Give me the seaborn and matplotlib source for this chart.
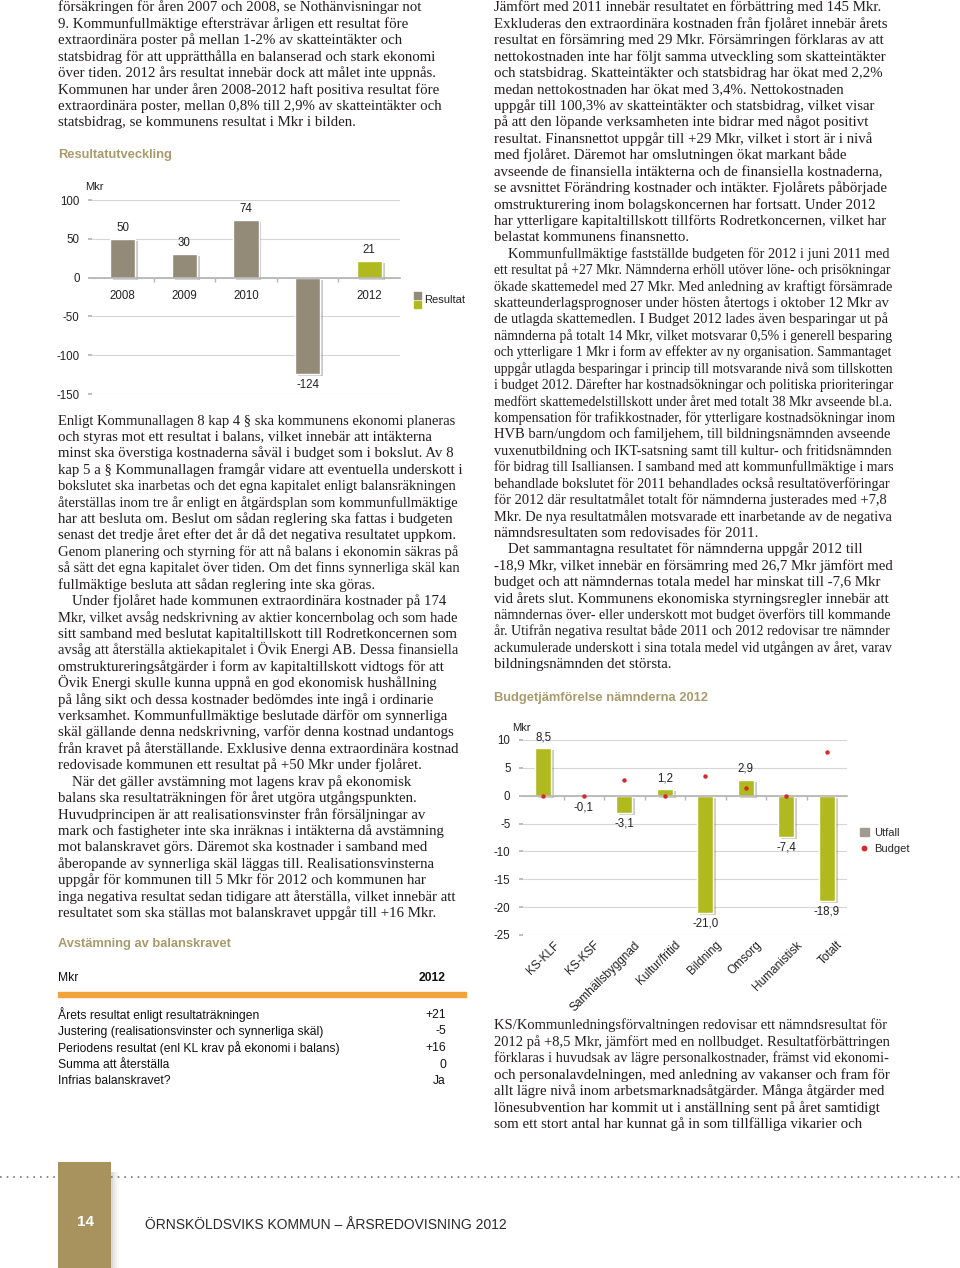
import matplotlib
matplotlib.use("Agg")
import matplotlib.pyplot as plt
import matplotlib.patheffects as pe
import matplotlib.transforms as mtransforms
from matplotlib.lines import Line2D
from matplotlib.patches import Patch, Rectangle
import seaborn as sns

W, H = 960, 1268

# chart 1: Resultatutveckling
YEARS = ["2008", "2009", "2010", "2011", "2012"]
RESULTAT = [50, 30, 74, -124, 21]

# chart 2: Budgetjämförelse nämnderna 2012
NAMND = ["KS-KLF", "KS-KSF", "Samhällsbyggnad", "Kultur/fritid", "Bildning",
         "Omsorg", "Humanistisk", "Totalt"]
UTFALL = [8.5, -0.1, -3.1, 1.2, -21.0, 2.9, -7.4, -18.9]
BUDGET = [0, 0, 2.9, 0, 3.6, 1.3, 0, 7.8]

# table: Avstämning av balanskravet
TABLE_ROWS = [
    "Årets resultat enligt resultaträkningen",
    "Justering (realisationsvinster och synnerliga skäl)",
    "Periodens resultat (enl KL krav på ekonomi i balans)",
    "Summa att återställa",
    "Infrias balanskravet?",
]
TABLE_VALUES = ["+21", "-5", "+16", "0", "Ja"]

LEFT_TOP = [
    "försäkringen för åren 2007 och 2008, se Nothänvisningar not",
    "9. Kommunfullmäktige eftersträvar årligen ett resultat före",
    "extraordinära poster på mellan 1-2% av skatteintäkter och",
    "statsbidrag för att upprätthålla en balanserad och stark ekonomi",
    "över tiden. 2012 års resultat innebär dock att målet inte uppnås.",
    "Kommunen har under åren 2008-2012 haft positiva resultat före",
    "extraordinära poster, mellan 0,8% till 2,9% av skatteintäkter och",
    "statsbidrag, se kommunens resultat i Mkr i bilden.",
]

LEFT_MID = [
    "Enligt Kommunallagen 8 kap 4 § ska kommunens ekonomi planeras",
    "och styras mot ett resultat i balans, vilket innebär att intäkterna",
    "minst ska överstiga kostnaderna såväl i budget som i bokslut. Av 8",
    "kap 5 a § Kommunallagen framgår vidare att eventuella underskott i",
    "bokslutet ska inarbetas och det egna kapitalet enligt balansräkningen",
    "återställas inom tre år enligt en åtgärdsplan som kommunfullmäktige",
    "har att besluta om. Beslut om sådan reglering ska fattas i budgeten",
    "senast det tredje året efter det år då det negativa resultatet uppkom.",
    "Genom planering och styrning för att nå balans i ekonomin säkras på",
    "så sätt det egna kapitalet över tiden. Om det finns synnerliga skäl kan",
    "fullmäktige besluta att sådan reglering inte ska göras.",
    "\tUnder fjolåret hade kommunen extraordinära kostnader på 174",
    "Mkr, vilket avsåg nedskrivning av aktier koncernbolag och som hade",
    "sitt samband med beslutat kapitaltillskott till Rodretkoncernen som",
    "avsåg att återställa aktiekapitalet i Övik Energi AB. Dessa finansiella",
    "omstruktureringsåtgärder i form av kapitaltillskott vidtogs för att",
    "Övik Energi skulle kunna uppnå en god ekonomisk hushållning",
    "på lång sikt och dessa kostnader bedömdes inte ingå i ordinarie",
    "verksamhet. Kommunfullmäktige beslutade därför om synnerliga",
    "skäl gällande denna nedskrivning, varför denna kostnad undantogs",
    "från kravet på återställande. Exklusive denna extraordinära kostnad",
    "redovisade kommunen ett resultat på +50 Mkr under fjolåret.",
    "\tNär det gäller avstämning mot lagens krav på ekonomisk",
    "balans ska resultaträkningen för året utgöra utgångspunkten.",
    "Huvudprincipen är att realisationsvinster från försäljningar av",
    "mark och fastigheter inte ska inräknas i intäkterna då avstämning",
    "mot balanskravet görs. Däremot ska kostnader i samband med",
    "åberopande av synnerliga skäl läggas till. Realisationsvinsterna",
    "uppgår för kommunen till 5 Mkr för 2012 och kommunen har",
    "inga negativa resultat sedan tidigare att återställa, vilket innebär att",
    "resultatet som ska ställas mot balanskravet uppgår till +16 Mkr.",
]

RIGHT_TOP = [
    "Jämfört med 2011 innebär resultatet en förbättring med 145 Mkr.",
    "Exkluderas den extraordinära kostnaden från fjolåret innebär årets",
    "resultat en försämring med 29 Mkr. Försämringen förklaras av att",
    "nettokostnaden inte har följt samma utveckling som skatteintäkter",
    "och statsbidrag. Skatteintäkter och statsbidrag har ökat med 2,2%",
    "medan nettokostnaden har ökat med 3,4%. Nettokostnaden",
    "uppgår till 100,3% av skatteintäkter och statsbidrag, vilket visar",
    "på att den löpande verksamheten inte bidrar med något positivt",
    "resultat. Finansnettot uppgår till +29 Mkr, vilket i stort är i nivå",
    "med fjolåret. Däremot har omslutningen ökat markant både",
    "avseende de finansiella intäkterna och de finansiella kostnaderna,",
    "se avsnittet Förändring kostnader och intäkter. Fjolårets påbörjade",
    "omstrukturering inom bolagskoncernen har fortsatt. Under 2012",
    "har ytterligare kapitaltillskott tillförts Rodretkoncernen, vilket har",
    "belastat kommunens finansnetto.",
    "\tKommunfullmäktige fastställde budgeten för 2012 i juni 2011 med",
    "ett resultat på +27 Mkr. Nämnderna erhöll utöver löne- och prisökningar",
    "ökade skattemedel med 27 Mkr. Med anledning av kraftigt försämrade",
    "skatteunderlagsprognoser under hösten återtogs i oktober 12 Mkr av",
    "de utlagda skattemedlen. I Budget 2012 lades även besparingar ut på",
    "nämnderna på totalt 14 Mkr, vilket motsvarar 0,5% i generell besparing",
    "och ytterligare 1 Mkr i form av effekter av ny organisation. Sammantaget",
    "uppgår utlagda besparingar i princip till motsvarande nivå som tillskotten",
    "i budget 2012. Därefter har kostnadsökningar och politiska prioriteringar",
    "medfört skattemedelstillskott under året med totalt 38 Mkr avseende bl.a.",
    "kompensation för trafikkostnader, för ytterligare kostnadsökningar inom",
    "HVB barn/ungdom och familjehem, till bildningsnämnden avseende",
    "vuxenutbildning och IKT-satsning samt till kultur- och fritidsnämnden",
    "för bidrag till Isalliansen. I samband med att kommunfullmäktige i mars",
    "behandlade bokslutet för 2011 behandlades också resultatöverföringar",
    "för 2012 där resultatmålet totalt för nämnderna justerades med +7,8",
    "Mkr. De nya resultatmålen motsvarade ett inarbetande av de negativa",
    "nämndsresultaten som redovisades för 2011.",
    "\tDet sammantagna resultatet för nämnderna uppgår 2012 till",
    "-18,9 Mkr, vilket innebär en försämring med 26,7 Mkr jämfört med",
    "budget och att nämndernas totala medel har minskat till -7,6 Mkr",
    "vid årets slut. Kommunens ekonomiska styrningsregler innebär att",
    "nämndernas över- eller underskott mot budget överförs till kommande",
    "år. Utifrån negativa resultat både 2011 och 2012 redovisar tre nämnder",
    "ackumulerade underskott i sina totala medel vid utgången av året, varav",
    "bildningsnämnden det största.",
]

RIGHT_BOTTOM = [
    "KS/Kommunledningsförvaltningen redovisar ett nämndsresultat för",
    "2012 på +8,5 Mkr, jämfört med en nollbudget. Resultatförbättringen",
    "förklaras i huvudsak av lägre personalkostnader, främst vid ekonomi-",
    "och personalavdelningen, med anledning av vakanser och fram för",
    "allt lägre nivå inom arbetsmarknadsåtgärder. Många åtgärder med",
    "lönesubvention har kommit ut i anställning sent på året samtidigt",
    "som ett stort antal har kunnat gå in som tillfälliga vikarier och",
]

INK = "#231f20"
TAN = "#a99a6b"
BROWN = "#948a78"
GREEN = "#b0ba1e"
RED = "#d42a2a"
GRID = "#d6d6d6"

SERIF = ["Liberation Serif", "DejaVu Serif"]
SANS = ["Liberation Sans", "DejaVu Sans"]


def fx(x):
    return x / W


def fy(y):
    return 1 - y / H


def text_block(fig, lines, x, y0, maxw, size=10.7, pitch=16.42):
    r = fig.canvas.get_renderer()
    for i, line in enumerate(lines):
        indent = 14 if line.startswith("\t") else 0
        t = fig.text(fx(x + indent), fy(y0 + i * pitch + 4.5), line.strip(),
                     family=SERIF, fontsize=size, color=INK, va="baseline")
        w = t.get_window_extent(r).width
        if w > maxw - indent:
            t.set_fontsize(size * (maxw - indent) / w)


sns.set_theme(style="white")
plt.rcParams["font.family"] = SANS
plt.rcParams["axes.unicode_minus"] = False

fig = plt.figure(figsize=(W / 100, H / 100), dpi=100)

# body text
text_block(fig, LEFT_TOP, 58, 7, 402)
text_block(fig, LEFT_MID, 58, 420, 402)
text_block(fig, RIGHT_TOP, 494, 7, 397)
text_block(fig, RIGHT_BOTTOM, 494, 1025, 397)

# headings
for x, y, s in [(58, 155, "Resultatutveckling"),
                (494, 698, "Budgetjämförelse nämnderna 2012"),
                (58, 944, "Avstämning av balanskravet")]:
    fig.text(fx(x), fy(y), s, family=SANS, fontsize=9.3, weight="bold",
             color=TAN, va="center")

# ---- chart 1
ax1 = fig.add_axes([fx(92), fy(394), 308 / W, 194 / H])
bar_colors = [GREEN if y == "2012" else BROWN for y in YEARS]
sns.barplot(x=YEARS, y=RESULTAT, hue=YEARS, palette=bar_colors, width=0.41,
            saturation=1, legend=False, ax=ax1)
for p in ax1.patches:
    p.set_path_effects([pe.SimplePatchShadow(offset=(2, -1.5), alpha=0.25), pe.Normal()])
ax1.set_ylim(-150, 100)
ax1.set_xlim(-0.5, len(YEARS) - 0.5)
ax1.set_yticks(range(-150, 101, 50))
ax1.yaxis.grid(True, color=GRID, lw=0.8)
ax1.set_axisbelow(True)
for s in ["left", "right", "top"]:
    ax1.spines[s].set_visible(False)
ax1.spines["bottom"].set_position(("data", 0))
ax1.spines["bottom"].set_color("#b5b5b5")
ax1.set_xticks([i + 0.5 for i in range(len(YEARS) - 1)], minor=True)
ax1.tick_params(axis="x", which="major", length=0, pad=9, labelsize=8.3, labelcolor="#222")
ax1.tick_params(axis="x", which="minor", length=3, color="#b5b5b5", bottom=True)
ax1.tick_params(axis="y", left=True, length=3, color="#b5b5b5", pad=6, labelsize=8.3,
                labelcolor="#222")
ax1.set_xlabel("")
ax1.set_ylabel("")
for i, v in enumerate(RESULTAT):
    ax1.annotate(str(v), (i, v), xytext=(0, 3.5 if v > 0 else -3.5),
                 textcoords="offset points", ha="center",
                 va="bottom" if v > 0 else "top", fontsize=8.3, color="#222")
fig.text(fx(85), fy(187), "Mkr", fontsize=8, color="#222", va="center")
fig.add_artist(Rectangle((fx(414), fy(299)), 7 / W, 7 / H, color=BROWN))
fig.add_artist(Rectangle((fx(414), fy(308)), 7 / W, 7 / H, color=GREEN))
fig.text(fx(424), fy(300), "Resultat", fontsize=8, color="#222", va="center")

# ---- chart 2
ax2 = fig.add_axes([fx(523), fy(935), 324 / W, 195 / H])
sns.barplot(x=NAMND, y=UTFALL, color=GREEN, width=0.4, saturation=1, ax=ax2)
for p in ax2.patches:
    p.set_path_effects([pe.SimplePatchShadow(offset=(2, -1.5), alpha=0.25), pe.Normal()])
sns.stripplot(x=NAMND, y=BUDGET, color=RED, size=3.2, jitter=False, linewidth=0,
              zorder=5, ax=ax2)
ax2.set_ylim(-25, 10)
ax2.set_xlim(-0.5, len(NAMND) - 0.5)
ax2.set_yticks(range(-25, 11, 5))
ax2.yaxis.grid(True, color=GRID, lw=0.8)
ax2.set_axisbelow(True)
for s in ["left", "right", "bottom"]:
    ax2.spines[s].set_visible(False)
ax2.spines["top"].set_position(("data", 0))
ax2.spines["top"].set_color("#b5b5b5")
ax2.set_xticks([i + 0.5 for i in range(len(NAMND) - 1)], minor=True)
ax2.tick_params(axis="x", which="minor", top=True, bottom=False, direction="in",
                length=3, color="#b5b5b5")
ax2.tick_params(axis="x", which="major", length=0, pad=3, labelsize=8.5, labelcolor="#222")
shift = mtransforms.ScaledTranslation(10 / 100, 0, fig.dpi_scale_trans)
for lab in ax2.get_xticklabels():
    lab.set_rotation(45)
    lab.set_ha("right")
    lab.set_rotation_mode("anchor")
    lab.set_transform(lab.get_transform() + shift)
ax2.tick_params(axis="y", left=True, length=3, color="#b5b5b5", pad=6, labelsize=8.3,
                labelcolor="#222")
ax2.set_xlabel("")
ax2.set_ylabel("")
for i, v in enumerate(UTFALL):
    ax2.annotate(f"{v:.1f}".replace(".", ","), (i, v), xytext=(0, 3.5 if v > 0 else -3.5),
                 textcoords="offset points", ha="center",
                 va="bottom" if v > 0 else "top", fontsize=8.3, color="#222")
fig.text(fx(512), fy(728), "Mkr", fontsize=8, color="#222", va="center")
ax2.legend(handles=[Patch(color="#a09a90", label="Utfall"),
                    Line2D([], [], marker="o", ls="", color=RED, markersize=3.2,
                           label="Budget")],
           loc="upper left", bbox_to_anchor=(fx(850), fy(818)),
           bbox_transform=fig.transFigure, frameon=False, fontsize=8,
           handlelength=0.8, handletextpad=0.5, labelspacing=0.5)

# ---- table
fig.text(fx(58), fy(978), "Mkr", family=SANS, fontsize=8.7, color="#111", va="center")
fig.text(fx(446), fy(978), "2012", family=SANS, fontsize=8.7, weight="bold",
         color="#111", va="center", ha="right")
fig.add_artist(Rectangle((fx(58), fy(997)), 408 / W, 5 / H, color="#f2a33a"))
for i, (lab, val) in enumerate(zip(TABLE_ROWS, TABLE_VALUES)):
    y = 1015 + i * 16.5
    fig.text(fx(58), fy(y), lab, family=SANS, fontsize=8.7, color="#111", va="center")
    fig.text(fx(446), fy(y), val, family=SANS, fontsize=8.7, color="#111",
             va="center", ha="right")

# ---- footer
fig.add_artist(Line2D([0, fx(58)], [fy(1177)] * 2, ls=(0, (1, 3)), lw=1.2, color="#777"))
fig.add_artist(Line2D([fx(111), 1], [fy(1177)] * 2, ls=(0, (1, 3)), lw=1.2, color="#777"))
for k, a in enumerate([0.22, 0.14, 0.08, 0.04]):
    fig.add_artist(Rectangle((fx(111 + 2 * k), 0), 2 / W, fy(1172), color="#555",
                             alpha=a, lw=0))
fig.add_artist(Rectangle((fx(58), 0), 53 / W, fy(1162), color="#a8935f", lw=0))
fig.text(fx(85), fy(1222), "14", family=SANS, fontsize=11, weight="bold",
         color="white", ha="center", va="center")
fig.text(fx(145), fy(1225), "ÖRNSKÖLDSVIKS KOMMUN – ÅRSREDOVISNING 2012",
         family=SANS, fontsize=10, color="#2a2a2a", va="center")

fig.savefig("out.png", dpi=100)
